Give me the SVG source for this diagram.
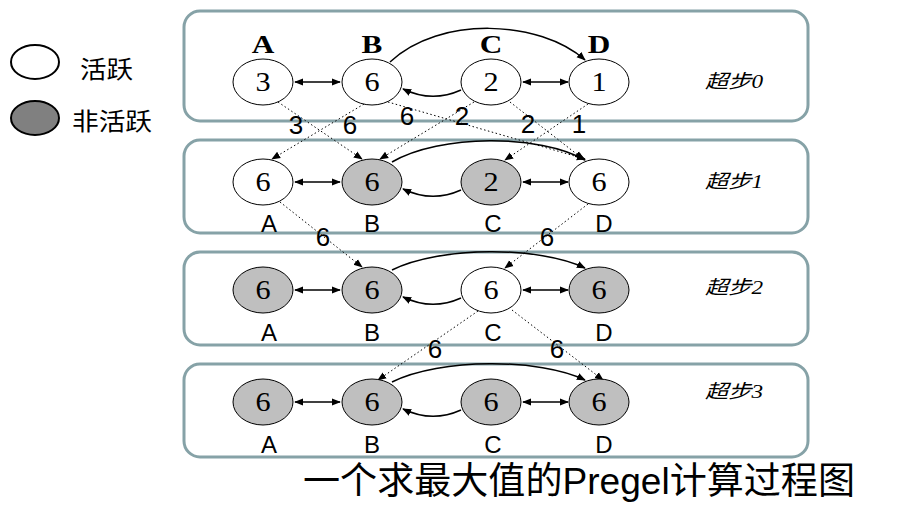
<svg xmlns="http://www.w3.org/2000/svg" width="918" height="506" viewBox="0 0 918 506">
<style>
.panel{fill:#fff;stroke:#86a2a7;stroke-width:3}
.act{fill:#fff;stroke:#000;stroke-width:1}
.ina{fill:#bfbfbf;stroke:#000;stroke-width:1}
.num{font-family:"Liberation Serif",serif;font-size:27px;text-anchor:middle}
.top{font-family:"Liberation Serif",serif;font-size:25px;font-weight:bold;text-anchor:middle}
.bot{font-family:"Liberation Sans",sans-serif;font-size:24px;text-anchor:middle}
.msg{font-family:"Liberation Sans",sans-serif;font-size:26px;text-anchor:middle}
.step{font-family:"Liberation Serif","Noto Sans CJK SC",serif;font-size:19px;font-style:italic}
.edge{fill:none;stroke:#000;stroke-width:1.5}
.dbl{fill:none;stroke:#000;stroke-width:1.3;marker-start:url(#ah);marker-end:url(#ah)}
.dot{fill:none;stroke:#000;stroke-width:1;stroke-dasharray:1.5 2.5;marker-end:url(#ah)}
.leg{font-family:"Noto Sans CJK SC",sans-serif;font-size:24px}
</style>
<defs>
<marker id="ah" viewBox="0 0 10 10" refX="9" refY="5" markerWidth="9" markerHeight="9" markerUnits="userSpaceOnUse" orient="auto-start-reverse">
<path d="M0,1 L10,5 L0,9 Z" fill="#000"/>
</marker>
</defs>

<g id="legend">
<ellipse cx="35" cy="62" rx="24" ry="17" fill="#fff" stroke="#000" stroke-width="2"/>
<text class="leg" x="80" y="78" textLength="53" lengthAdjust="spacingAndGlyphs">活跃</text>
<ellipse cx="35" cy="118" rx="24" ry="17" fill="#808080" stroke="#000" stroke-width="2"/>
<text class="leg" x="72" y="130" textLength="80" lengthAdjust="spacingAndGlyphs">非活跃</text>
</g>

<g id="panels">
<rect id="panel0" class="panel" x="184" y="11" width="624" height="110" rx="16"/>
<rect id="panel1" class="panel" x="184" y="140" width="624" height="93" rx="16"/>
<rect id="panel2" class="panel" x="184" y="252" width="624" height="93" rx="16"/>
<rect id="panel3" class="panel" x="184" y="364" width="624" height="93" rx="16"/>
</g>

<g id="connectors">
<!-- superstep 0 -->
<line class="dbl" x1="295" y1="82" x2="340" y2="82"/>
<line class="dbl" x1="523" y1="82" x2="568" y2="82"/>
<path class="edge" d="M461,90 Q432,103 403,89" marker-end="url(#ah)"/>
<path class="edge" d="M390,62 C440,15 540,20 585,60" marker-end="url(#ah)"/>
<!-- superstep 1 -->
<line class="dbl" x1="295" y1="182" x2="340" y2="182"/>
<line class="dbl" x1="523" y1="182" x2="568" y2="182"/>
<path class="edge" d="M461,190 Q432,203 403,189" marker-end="url(#ah)"/>
<path class="edge" d="M392,162 C440,134 540,134 585,160" marker-end="url(#ah)"/>
<!-- superstep 2 -->
<line class="dbl" x1="295" y1="290" x2="340" y2="290"/>
<line class="dbl" x1="523" y1="290" x2="568" y2="290"/>
<path class="edge" d="M461,298 Q432,311 403,297" marker-end="url(#ah)"/>
<path class="edge" d="M392,270 C440,246 540,246 585,268" marker-end="url(#ah)"/>
<!-- superstep 3 -->
<line class="dbl" x1="295" y1="402" x2="340" y2="402"/>
<line class="dbl" x1="523" y1="402" x2="568" y2="402"/>
<path class="edge" d="M461,410 Q432,423 403,409" marker-end="url(#ah)"/>
<path class="edge" d="M392,382 C440,358 540,358 585,380" marker-end="url(#ah)"/>
<!-- messages 0 -> 1 -->
<line class="dot" x1="278" y1="102" x2="362" y2="159"/>
<line class="dot" x1="364" y1="104" x2="272" y2="159"/>
<line class="dot" x1="388" y1="102" x2="585" y2="159"/>
<line class="dot" x1="474" y1="102" x2="380" y2="159"/>
<line class="dot" x1="510" y1="102" x2="583" y2="159"/>
<line class="dot" x1="588" y1="104" x2="505" y2="160"/>
<!-- messages 1 -> 2 -->
<line class="dot" x1="280" y1="202" x2="362" y2="267"/>
<line class="dot" x1="588" y1="204" x2="505" y2="268"/>
<!-- messages 2 -> 3 -->
<line class="dot" x1="478" y1="311" x2="378" y2="380"/>
<line class="dot" x1="512" y1="310" x2="603" y2="380"/>
<!-- message labels -->
<text class="msg" x="296" y="134">3</text>
<text class="msg" x="350" y="134">6</text>
<text class="msg" x="407" y="125">6</text>
<text class="msg" x="462" y="125">2</text>
<text class="msg" x="528" y="133">2</text>
<text class="msg" x="579" y="133">1</text>
<text class="msg" x="323" y="246">6</text>
<text class="msg" x="547" y="246">6</text>
<text class="msg" x="435" y="358">6</text>
<text class="msg" x="557" y="358">6</text>
</g>

<g id="step0">
<text class="top" transform="translate(263,53) scale(1.25,1)">A</text>
<text class="top" transform="translate(372,53) scale(1.25,1)">B</text>
<text class="top" transform="translate(491,53) scale(1.25,1)">C</text>
<text class="top" transform="translate(599,53) scale(1.25,1)">D</text>
<g id="s0A"><ellipse class="act" cx="263" cy="82" rx="30" ry="23"/><text class="num" transform="translate(263,91) scale(1.12,1)">3</text></g>
<g id="s0B"><ellipse class="act" cx="372" cy="82" rx="30" ry="23"/><text class="num" transform="translate(372,91) scale(1.12,1)">6</text></g>
<g id="s0C"><ellipse class="act" cx="491" cy="82" rx="30" ry="23"/><text class="num" transform="translate(491,91) scale(1.12,1)">2</text></g>
<g id="s0D"><ellipse class="act" cx="599" cy="82" rx="30" ry="23"/><text class="num" transform="translate(599,91) scale(1.12,1)">1</text></g>
<text class="step" x="705" y="88" textLength="58" lengthAdjust="spacingAndGlyphs">超步0</text>
</g>

<g id="step1">
<g id="s1A"><ellipse class="act" cx="263" cy="182" rx="30" ry="23"/><text class="num" transform="translate(263,191) scale(1.12,1)">6</text></g>
<g id="s1B"><ellipse class="ina" cx="372" cy="182" rx="30" ry="23"/><text class="num" transform="translate(372,191) scale(1.12,1)">6</text></g>
<g id="s1C"><ellipse class="ina" cx="491" cy="182" rx="30" ry="23"/><text class="num" transform="translate(491,191) scale(1.12,1)">2</text></g>
<g id="s1D"><ellipse class="act" cx="599" cy="182" rx="30" ry="23"/><text class="num" transform="translate(599,191) scale(1.12,1)">6</text></g>
<text class="bot" x="269" y="232">A</text>
<text class="bot" x="372" y="232">B</text>
<text class="bot" x="493" y="232">C</text>
<text class="bot" x="604" y="232">D</text>
<text class="step" x="705" y="188" textLength="58" lengthAdjust="spacingAndGlyphs">超步1</text>
</g>

<g id="step2">
<g id="s2A"><ellipse class="ina" cx="263" cy="290" rx="30" ry="23"/><text class="num" transform="translate(263,299) scale(1.12,1)">6</text></g>
<g id="s2B"><ellipse class="ina" cx="372" cy="290" rx="30" ry="23"/><text class="num" transform="translate(372,299) scale(1.12,1)">6</text></g>
<g id="s2C"><ellipse class="act" cx="491" cy="290" rx="30" ry="23"/><text class="num" transform="translate(491,299) scale(1.12,1)">6</text></g>
<g id="s2D"><ellipse class="ina" cx="599" cy="290" rx="30" ry="23"/><text class="num" transform="translate(599,299) scale(1.12,1)">6</text></g>
<text class="bot" x="269" y="341">A</text>
<text class="bot" x="372" y="341">B</text>
<text class="bot" x="493" y="341">C</text>
<text class="bot" x="604" y="341">D</text>
<text class="step" x="705" y="294" textLength="58" lengthAdjust="spacingAndGlyphs">超步2</text>
</g>

<g id="step3">
<g id="s3A"><ellipse class="ina" cx="263" cy="402" rx="30" ry="23"/><text class="num" transform="translate(263,411) scale(1.12,1)">6</text></g>
<g id="s3B"><ellipse class="ina" cx="372" cy="402" rx="30" ry="23"/><text class="num" transform="translate(372,411) scale(1.12,1)">6</text></g>
<g id="s3C"><ellipse class="ina" cx="491" cy="402" rx="30" ry="23"/><text class="num" transform="translate(491,411) scale(1.12,1)">6</text></g>
<g id="s3D"><ellipse class="ina" cx="599" cy="402" rx="30" ry="23"/><text class="num" transform="translate(599,411) scale(1.12,1)">6</text></g>
<text class="bot" x="269" y="453">A</text>
<text class="bot" x="372" y="453">B</text>
<text class="bot" x="493" y="453">C</text>
<text class="bot" x="604" y="453">D</text>
<text class="step" x="705" y="398" textLength="58" lengthAdjust="spacingAndGlyphs">超步3</text>
</g>

<text id="title" x="303" y="494" font-family="Liberation Sans,Noto Sans CJK SC,sans-serif" font-size="37" textLength="552" lengthAdjust="spacingAndGlyphs">一个求最大值的Pregel计算过程图</text>
</svg>
